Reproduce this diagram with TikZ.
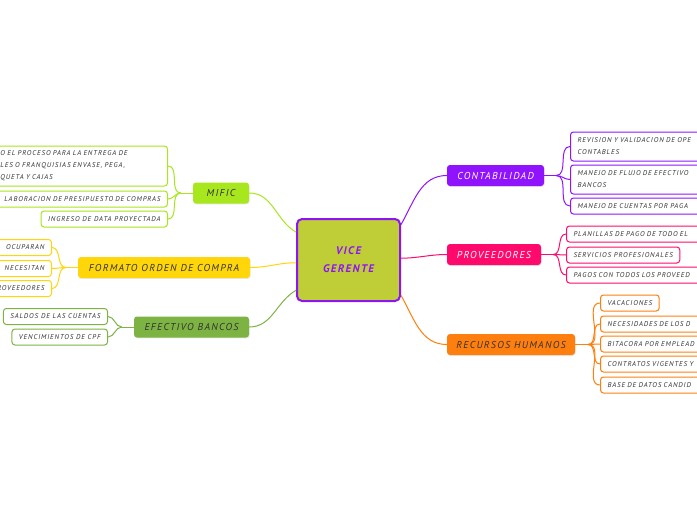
\documentclass[tikz,border=0pt]{standalone}
\usepackage{fontspec}
\setmainfont{PT Sans}
\newfontfamily\mapfont[LetterSpace=13]{PT Sans}
\usetikzlibrary{positioning, shadows}

\definecolor{vicefill}{HTML}{BFCD36}
\definecolor{vicepurple}{HTML}{8E14F8}
\definecolor{mificgreen}{HTML}{A8E61D}
\definecolor{ordenyellow}{HTML}{FFD60A}
\definecolor{bancogreen}{HTML}{7CB342}
\definecolor{contapurple}{HTML}{9013FE}
\definecolor{provpink}{HTML}{FF0A6C}
\definecolor{rrhhorange}{HTML}{FF7F0E}
\definecolor{inkgray}{HTML}{333333}

\begin{document}
\begin{tikzpicture}[
    x=1pt, y=-1pt,
    branch/.style={rectangle, rounded corners=3pt, minimum height=21pt, inner xsep=8pt, font=\mapfont\fontsize{10}{11}\selectfont\itshape, text=inkgray, drop shadow={opacity=0.18, shadow xshift=0.6pt, shadow yshift=-0.9pt}},
    leaf/.style={rectangle, draw, rounded corners=3pt, line width=1pt, fill=white, minimum height=16pt, inner xsep=7pt, inner ysep=2pt, font=\mapfont\fontsize{7}{12}\selectfont\itshape, text=inkgray},
    link/.style={line width=1pt}
]
\useasboundingbox (0,0) rectangle (697,520);
\clip (0,0) rectangle (697,520);

% Centre
\node[draw=vicepurple, fill=vicefill, line width=2pt, rounded corners=5pt, minimum width=103pt, minimum height=82pt, align=center, text=vicepurple, font=\mapfont\fontsize{11}{18}\selectfont\itshape\bfseries] (vice) at (348.5,260) {VICE\\GERENTE};

% Main branches
\node[branch, fill=mificgreen, minimum width=56pt] (mific) at (221,193) {MIFIC};
\node[branch, fill=ordenyellow, minimum width=172pt] (orden) at (164,267.5) {FORMATO ORDEN DE COMPRA};
\node[branch, fill=bancogreen, minimum width=115pt] (bancos) at (191.5,327) {EFECTIVO BANCOS};
\node[branch, fill=contapurple, text=white, minimum width=97pt] (conta) at (495.5,175.5) {CONTABILIDAD};
\node[branch, fill=provpink, text=white, minimum width=94pt] (prov) at (494,254.5) {PROVEEDORES};
\node[branch, fill=rrhhorange, minimum width=128pt] (rrhh) at (511,344.5) {RECURSOS HUMANOS};

% Leaves: MIFIC
\node[leaf, draw=mificgreen, anchor=east, text width=160pt, align=left, minimum height=40pt] (mific1) at (168,166) {O EL PROCESO PARA LA ENTREGA DE\\LES O FRANQUISIAS ENVASE, PEGA,\\QUETA Y CAJAS};
\node[leaf, draw=mificgreen, anchor=east, text width=175pt, align=right] (mific2) at (168,199) {LABORACION DE PRESIPUESTO DE COMPRAS};
\node[leaf, draw=mificgreen, anchor=east] (mific3) at (168,219) {INGRESO DE DATA PROYECTADA};

% Leaves: FORMATO ORDEN DE COMPRA
\node[leaf, draw=ordenyellow, anchor=east, text width=60pt, align=right] (orden1) at (52,247.5) {OCUPARAN};
\node[leaf, draw=ordenyellow, anchor=east, text width=60pt, align=right] (orden2) at (52,268.5) {NECESITAN};
\node[leaf, draw=ordenyellow, anchor=east, text width=60pt, align=right] (orden3) at (52,288.5) {ROVEEDORES};

% Leaves: EFECTIVO BANCOS
\node[leaf, draw=bancogreen, anchor=east] (bancos1) at (108,316.5) {SALDOS DE LAS CUENTAS};
\node[leaf, draw=bancogreen, anchor=east] (bancos2) at (108,337) {VENCIMIENTOS DE CPF};

% Leaves: CONTABILIDAD
\node[leaf, draw=contapurple, anchor=west, text width=150pt, align=left, minimum height=29pt] (conta1) at (570,146.5) {REVISION Y VALIDACION DE OPE\\CONTABLES};
\node[leaf, draw=contapurple, anchor=west, text width=150pt, align=left, minimum height=29pt] (conta2) at (570,179.5) {MANEJO DE FLUJO DE EFECTIVO\\BANCOS};
\node[leaf, draw=contapurple, anchor=west, text width=150pt, align=left] (conta3) at (570,206) {MANEJO DE CUENTAS POR PAGA};

% Leaves: PROVEEDORES
\node[leaf, draw=provpink, anchor=west, text width=150pt, align=left] (prov1) at (566,234) {PLANILLAS DE PAGO DE TODO EL};
\node[leaf, draw=provpink, anchor=west] (prov2) at (566,255) {SERVICIOS PROFESIONALES};
\node[leaf, draw=provpink, anchor=west, text width=150pt, align=left] (prov3) at (566,275) {PAGOS CON TODOS LOS PROVEED};

% Leaves: RECURSOS HUMANOS
\node[leaf, draw=rrhhorange, anchor=west] (rrhh1) at (600,303) {VACACIONES};
\node[leaf, draw=rrhhorange, anchor=west, text width=120pt, align=left] (rrhh2) at (600,324) {NECESIDADES DE LOS D};
\node[leaf, draw=rrhhorange, anchor=west, text width=120pt, align=left] (rrhh3) at (600,344) {BITACORA POR EMPLEAD};
\node[leaf, draw=rrhhorange, anchor=west, text width=120pt, align=left] (rrhh4) at (600,364) {CONTRATOS VIGENTES Y};
\node[leaf, draw=rrhhorange, anchor=west, text width=120pt, align=left] (rrhh5) at (600,385) {BASE DE DATOS CANDID};

% Forks
\coordinate[left=12pt of mific] (mificfork);
\coordinate[left=12pt of orden] (ordenfork);
\coordinate[left=12pt of bancos] (bancosfork);
\coordinate[right=12pt of conta] (contafork);
\coordinate[right=12pt of prov] (provfork);
\coordinate[right=13pt of rrhh] (rrhhfork);

% Centre to branches
\draw[link, mificgreen] (vice.152) to[out=150, in=0] (mific.east);
\draw[link, ordenyellow] (vice.183) to[out=180, in=0] (orden.east);
\draw[link, bancogreen] (vice.210) to[out=210, in=0] (bancos.east);
\draw[link, contapurple] (vice.34) to[out=60, in=180] (conta.west);
\draw[link, provpink] (vice.2) to[out=0, in=180] (prov.west);
\draw[link, rrhhorange] (vice.326) to[out=-60, in=180] (rrhh.west);

% Branches to leaves
\draw[link, mificgreen] (mific) -- (mificfork);
\foreach \n in {mific1, mific2, mific3}
  \draw[link, mificgreen] (mificfork) to[out=180, in=0] (\n.east);
\draw[link, ordenyellow] (orden) -- (ordenfork);
\foreach \n in {orden1, orden2, orden3}
  \draw[link, ordenyellow] (ordenfork) to[out=180, in=0] (\n.east);
\draw[link, bancogreen] (bancos) -- (bancosfork);
\foreach \n in {bancos1, bancos2}
  \draw[link, bancogreen] (bancosfork) to[out=180, in=0] (\n.east);
\draw[link, contapurple] (conta) -- (contafork);
\foreach \n in {conta1, conta2, conta3}
  \draw[link, contapurple] (contafork) to[out=0, in=180] (\n.west);
\draw[link, provpink] (prov) -- (provfork);
\foreach \n in {prov1, prov2, prov3}
  \draw[link, provpink] (provfork) to[out=0, in=180] (\n.west);
\draw[link, rrhhorange] (rrhh) -- (rrhhfork);
\foreach \n in {rrhh1, rrhh2, rrhh3, rrhh4, rrhh5}
  \draw[link, rrhhorange] (rrhhfork) to[out=0, in=180] (\n.west);

\end{tikzpicture}
\end{document}
